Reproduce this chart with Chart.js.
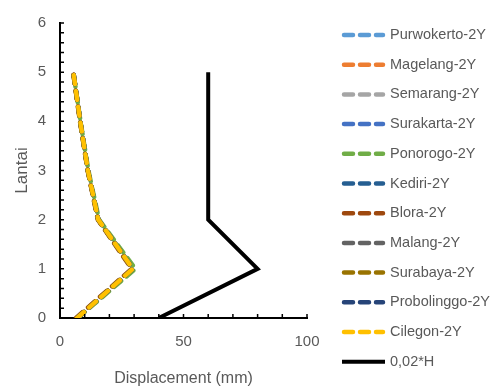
<!DOCTYPE html>
<html>
<head>
<meta charset="utf-8">
<script src="https://cdn.jsdelivr.net/npm/chart.js@4"></script>
<style>
  html, body { margin: 0; padding: 0; background: #fff; }
  #wrap { width: 497px; height: 388px; }
</style>
</head>
<body>
<div id="wrap"><canvas id="myChart" width="497" height="388"></canvas></div>
<script>
// storey levels (y) and displacement per city (x, mm)
const lantai = [0, 1, 2, 3, 4, 5];
const purwokerto = [7, 29.5, 15.5, 11.3, 8.2, 5.4];
const magelang = [7, 29.5, 15.5, 11.3, 8.2, 5.4];
const semarang = [7, 29.5, 15.5, 11.3, 8.2, 5.4];
const surakarta = [7, 29.5, 15.5, 11.3, 8.2, 5.4];
const ponorogo = [7.2, 30.5, 15.8, 11.5, 8.3, 5.4];
const kediri = [7, 29.5, 15.5, 11.3, 8.2, 5.4];
const blora = [6.5, 29, 15.3, 11.2, 8.1, 5.3];
const malang = [7, 29.5, 15.5, 11.3, 8.2, 5.4];
const surabaya = [6.8, 29.3, 15.4, 11.2, 8.1, 5.3];
const probolinggo = [7, 29.5, 15.5, 11.3, 8.2, 5.4];
const cilegon = [7, 29.5, 15.5, 11.3, 8.2, 5.4];
const batas = [40, 80, 60, 60, 60, 60]; // 0,02*H

const xTicks = [0, 50, 100];
const yTicks = [0, 1, 2, 3, 4, 5, 6];

const grey = '#595959';
const fontFam = 'Liberation Sans, Arial, sans-serif';

function pts(xs) {
  return xs.map((v, i) => ({x: v, y: lantai[i]}));
}

let n = 0;
function dashed(label, xs, color) {
  n++;
  return {
    label: label,
    data: pts(xs),
    borderColor: color,
    backgroundColor: color,
    borderWidth: 4.5,
    borderDash: [9, 7],
    borderCapStyle: 'round',
    pointRadius: 0,
    tension: 0,
    fill: false,
    order: 20 - n   // later series drawn on top
  };
}

// small inward ticks like the original
const innerTicks = {
  id: 'innerTicks',
  afterDraw(chart) {
    const {ctx, scales: {x, y}} = chart;
    ctx.save();
    ctx.strokeStyle = '#000';
    ctx.lineWidth = 1.5;
    ctx.beginPath();
    for (let v = 10; v <= 100; v += 10) {
      const px = x.getPixelForValue(v);
      ctx.moveTo(px, x.top);
      ctx.lineTo(px, x.top - 4);
    }
    for (let i = 1; i <= 30; i++) {
      const py = y.getPixelForValue(i * 0.2);
      ctx.moveTo(y.right, py);
      ctx.lineTo(y.right + 4, py);
    }
    ctx.stroke();
    ctx.restore();
  }
};

// legend on the right, one row per dataset
const sideLegend = {
  id: 'sideLegend',
  afterDraw(chart) {
    const ctx = chart.ctx;
    ctx.save();
    ctx.font = '14.5px ' + fontFam;
    ctx.textBaseline = 'middle';
    chart.data.datasets.forEach((ds, i) => {
      const y = 35 + i * 29.7;
      ctx.beginPath();
      ctx.setLineDash(ds.borderDash || []);
      ctx.lineCap = ds.borderCapStyle || 'butt';
      ctx.lineWidth = ds.borderWidth;
      ctx.strokeStyle = ds.borderColor;
      if (ds.borderDash) {
        ctx.moveTo(344, y);
        ctx.lineTo(383, y);
      } else {
        ctx.moveTo(342, y);
        ctx.lineTo(385, y);
      }
      ctx.stroke();
      ctx.setLineDash([]);
      ctx.fillStyle = grey;
      ctx.fillText(ds.label, 390, y);
    });
    ctx.restore();
  }
};

const ctx = document.getElementById('myChart').getContext('2d');
const myChart = new Chart(ctx, {
  type: 'line',
  data: {
    datasets: [
      dashed('Purwokerto-2Y', purwokerto, '#5B9BD5'),
      dashed('Magelang-2Y', magelang, '#ED7D31'),
      dashed('Semarang-2Y', semarang, '#A5A5A5'),
      dashed('Surakarta-2Y', surakarta, '#4472C4'),
      dashed('Ponorogo-2Y', ponorogo, '#70AD47'),
      dashed('Kediri-2Y', kediri, '#255E91'),
      dashed('Blora-2Y', blora, '#9E480E'),
      dashed('Malang-2Y', malang, '#636363'),
      dashed('Surabaya-2Y', surabaya, '#997300'),
      dashed('Probolinggo-2Y', probolinggo, '#264478'),
      dashed('Cilegon-2Y', cilegon, '#FFC000'),
      {
        label: '0,02*H',
        data: pts(batas),
        borderColor: '#000',
        backgroundColor: '#000',
        borderWidth: 4,
        pointRadius: 0,
        tension: 0,
        fill: false,
        order: 0
      }
    ]
  },
  options: {
    responsive: false,
    animation: false,
    layout: { padding: { top: 0, right: 190, left: 0, bottom: 0 } },
    plugins: {
      tooltip: { enabled: false },
      legend: { display: false }
    },
    scales: {
      x: {
        type: 'linear',
        min: 0,
        max: 100,
        afterBuildTicks: (s) => { s.ticks = xTicks.map(v => ({value: v})); },
        afterFit: (s) => { s.height = 70; },
        grid: { drawOnChartArea: false, drawTicks: false },
        border: { color: '#000', width: 2 },
        ticks: {
          padding: 15,
          color: grey,
          font: { family: fontFam, size: 15 }
        },
        title: {
          display: true,
          text: 'Displacement (mm)',
          color: grey,
          padding: { top: 0, bottom: 0 },
          font: { family: fontFam, size: 16 }
        }
      },
      y: {
        type: 'linear',
        min: 0,
        max: 6,
        afterBuildTicks: (s) => { s.ticks = yTicks.map(v => ({value: v})); },
        afterFit: (s) => { s.width = 60; },
        grid: { drawOnChartArea: false, drawTicks: false },
        border: { color: '#000', width: 2 },
        ticks: {
          padding: 14,
          color: grey,
          font: { family: fontFam, size: 15 }
        },
        title: {
          display: true,
          text: 'Lantai',
          color: grey,
          padding: { top: 12, bottom: 0 },
          font: { family: fontFam, size: 17 }
        }
      }
    }
  },
  plugins: [innerTicks, sideLegend]
});
</script>
</body>
</html>
